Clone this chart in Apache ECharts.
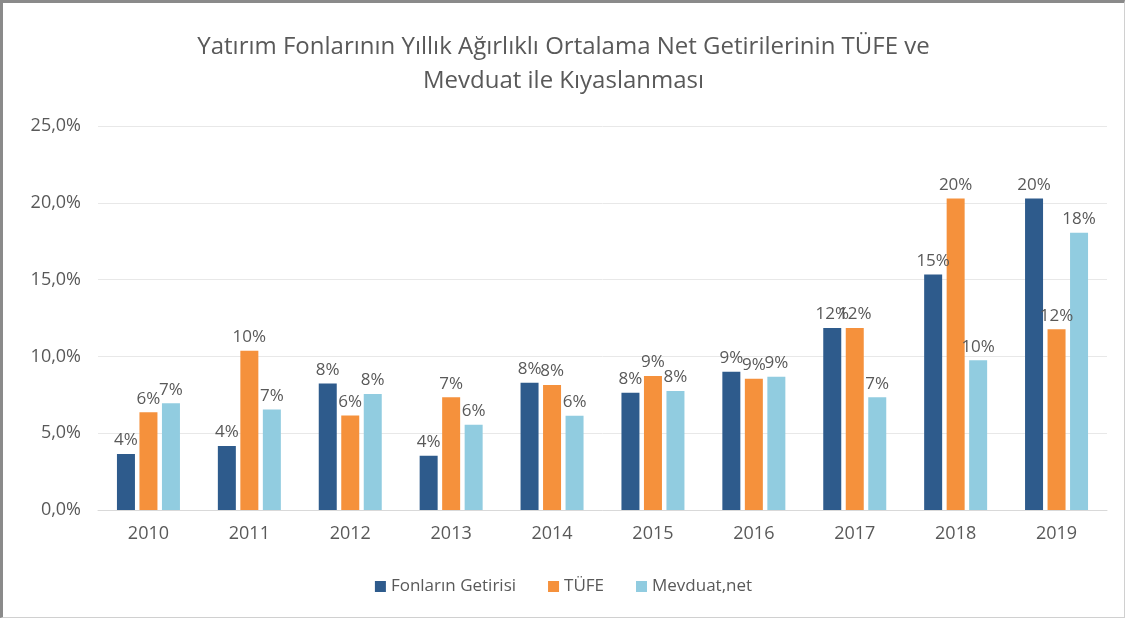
<!DOCTYPE html>
<html>
<head>
<meta charset="utf-8">
<script src="https://cdn.jsdelivr.net/npm/echarts@6/dist/echarts.min.js"></script>
<style type="text/css">
html,body{margin:0;padding:0;background:#fff;}
#frame{position:absolute;left:0;top:0;width:1121px;height:614px;border-left:3px solid #8a8a8a;border-top:3px solid #8a8a8a;border-right:1px solid #d0d0d0;border-bottom:1px solid #d0d0d0;}
#chart_main{width:1121px;height:614px;}
</style>
</head>
<body>
<div id="frame"><div id="chart_main"></div></div>
<script type="text/javascript">
var years = ['2010','2011','2012','2013','2014','2015','2016','2017','2018','2019'];
var fonlar = [3.65, 4.17, 8.24, 3.54, 8.28, 7.63, 9.0, 11.85, 15.34, 20.28];
var tufe = [6.36, 10.36, 6.16, 7.34, 8.13, 8.72, 8.55, 11.85, 20.28, 11.76];
var mevduat = [6.95, 6.54, 7.55, 5.55, 6.14, 7.74, 8.68, 7.34, 9.75, 18.05];
var names = ['Fonlar\u0131n Getirisi', 'T\u00dcFE', 'Mevduat,net'];
var colors = ['#2E5B8C', '#F5913C', '#91CCE0'];

var font = '"Open Sans", "Noto Sans", sans-serif';
var textColor = '#595959';

function mk(name, data, color){
	return {
		name: name,
		type: 'bar',
		data: data,
		barWidth: 18,
		barGap: '25%',
		itemStyle: {color: color},
		label: {
			show: true,
			position: 'top',
			distance: 5,
			color: textColor,
			fontSize: 17,
			fontFamily: font,
			formatter: function(p){ return Math.round(p.value) + '%'; }
		}
	};
}

var myChart = echarts.init(document.getElementById('chart_main'));
var option = {
	animation: false,
	title: {
		text: 'Yat\u0131r\u0131m Fonlar\u0131n\u0131n Y\u0131ll\u0131k A\u011f\u0131rl\u0131kl\u0131 Ortalama Net Getirilerinin T\u00dcFE ve\nMevduat ile K\u0131yaslanmas\u0131',
		left: 'center',
		top: 22,
		textStyle: {color: textColor, fontSize: 24, fontWeight: 'normal', fontFamily: font, lineHeight: 34}
	},
	legend: {
		data: names,
		bottom: 17,
		left: 'center',
		itemWidth: 11,
		itemHeight: 11,
		itemGap: 32,
		icon: 'rect',
		textStyle: {color: textColor, fontSize: 17, fontFamily: font}
	},
	grid: {left: 95, right: 17, top: 123, bottom: 107},
	xAxis: {
		type: 'category',
		data: years,
		axisLine: {lineStyle: {color: '#d9d9d9'}},
		axisTick: {show: false},
		axisLabel: {color: textColor, fontSize: 18, fontFamily: font, margin: 15}
	},
	yAxis: {
		type: 'value',
		min: 0,
		max: 25,
		interval: 5,
		axisLine: {show: false},
		axisTick: {show: false},
		splitLine: {lineStyle: {color: '#e8e8e8'}},
		axisLabel: {
			color: textColor, fontSize: 18, fontFamily: font, margin: 17,
			formatter: function(v){ return v.toFixed(1).replace('.', ',') + '%'; }
		}
	},
	series: [
		mk(names[0], fonlar, colors[0]),
		mk(names[1], tufe, colors[1]),
		mk(names[2], mevduat, colors[2])
	]
};
myChart.setOption(option);
</script>
</body>
</html>
